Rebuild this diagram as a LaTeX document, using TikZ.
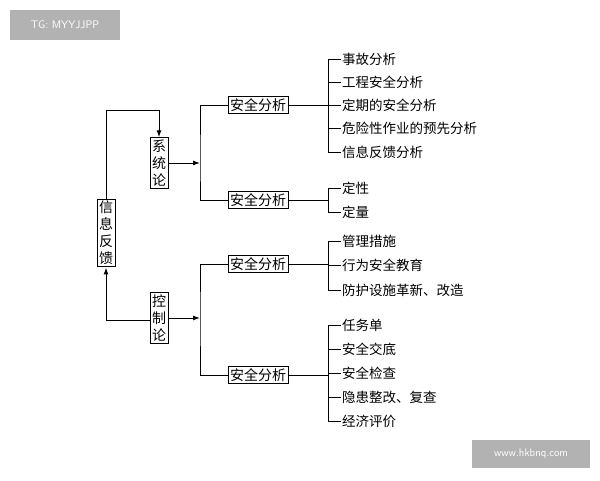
\documentclass[tikz,border=0pt]{standalone}
\usepackage{fontspec}
\newfontfamily\cjk{Noto Sans CJK SC}
\usetikzlibrary{arrows.meta}
\begin{document}
\begin{tikzpicture}[x=1pt,y=-1pt,
  bx/.style={draw,line width=1pt,inner sep=2pt,font=\cjk\fontsize{14}{15}\selectfont},
  vbx/.style={draw,line width=1pt,inner sep=2pt,align=center,font=\cjk\fontsize{14}{17}\selectfont},
  it/.style={anchor=west,inner sep=1pt,font=\cjk\fontsize{13.5}{15}\selectfont},
  ln/.style={line width=1pt},
  ar/.style={line width=1pt,-{Latex[length=7pt,width=5pt]}}]
\useasboundingbox (0,0) rectangle (600,480);
\node[fill=gray!60,text=white,minimum width=110,minimum height=30,font=\sffamily\fontsize{11}{12}\selectfont] (wm1) at (65,25) {TG: MYYJJPP};
\node[fill=gray!60,text=white,minimum width=118,minimum height=28,font=\sffamily\fontsize{11}{12}\selectfont] (wm2) at (531,454) {www.hkbnq.com};
\node[vbx] (fb) at (106,233) {信\\息\\反\\馈};
\node[vbx] (xt) at (159,163) {系\\统\\论};
\node[vbx] (kz) at (159,318) {控\\制\\论};
\coordinate (c1) at (106,110);
\draw[ar] (fb.north) -- (c1) -| (xt.north);
\coordinate (c2) at (106,320);
\draw[ar] (kz.west |- c2) -- (c2) -- (fb.south);
\node[bx] (a1) at (258,105) {安全分析};
\node[bx] (a2) at (258,200) {安全分析};
\node[bx] (a3) at (258,264) {安全分析};
\node[bx] (a4) at (258,375) {安全分析};
\coordinate (j1) at (200,163);
\coordinate (j2) at (200,318);
\draw[ar] (xt.east |- j1) -- (j1);
\draw[ar] (kz.east |- j2) -- (j2);
\draw[ln] (a1.west) -| (200,163) |- (a2.west);
\draw[ln] (a3.west) -| (200,318) |- (a4.west);
% items
\foreach \n/\y/\t in {i1/59/事故分析,i2/82/工程安全分析,i3/105/定期的安全分析,i4/128/危险性作业的预先分析,i5/152/信息反馈分析,
  j1a/188/定性,j2a/212/定量,
  k1/241/管理措施,k2/265/行为安全教育,k3/290/防护设施革新、改造,
  m1/325/任务单,m2/349/安全交底,m3/373/安全检查,m4/397/隐患整改、复查,m5/421/经济评价}
  {\node[it] (\n) at (341,\y) {\t}; \draw[ln] (328,\y) -- (\n.west);}
\draw[ln] (328,59) -- (328,152);
\draw[ln] (328,188) -- (328,212);
\draw[ln] (328,241) -- (328,290);
\draw[ln] (328,325) -- (328,421);
\draw[ln] (a1.east) -- (328,105);
\draw[ln] (a2.east) -- (328,200);
\draw[ln] (a3.east) -- (328,264);
\draw[ln] (a4.east) -- (328,375);
\end{tikzpicture}
\end{document}
